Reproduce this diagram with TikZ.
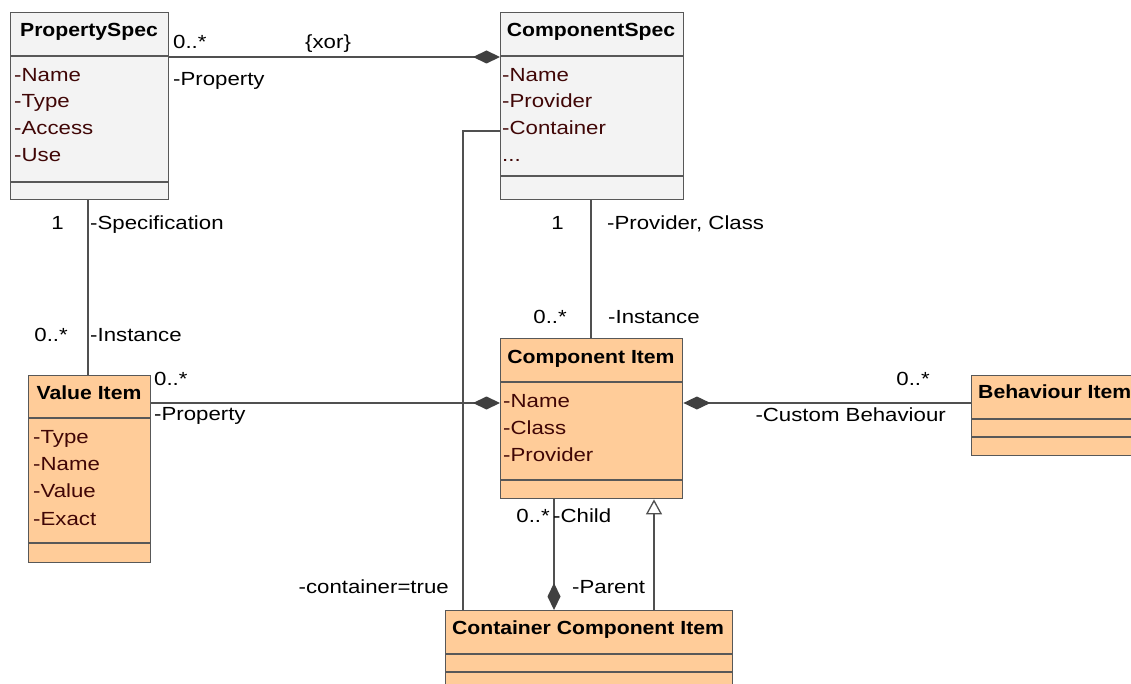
\documentclass[tikz,border=0pt]{standalone}
\usepackage{fontspec}
\setmainfont[FakeStretch=1.17]{Liberation Sans}
\newfontfamily\titlefam[FakeStretch=1.115]{Liberation Sans}
\usetikzlibrary{arrows.meta}

\definecolor{boxline}{RGB}{88,88,88}
\definecolor{linkcol}{RGB}{80,80,80}
\definecolor{diamcol}{RGB}{64,64,64}
\definecolor{specfill}{RGB}{243,243,243}
\definecolor{itemfill}{RGB}{255,204,153}
\definecolor{attrcol}{RGB}{64,6,6}

\newcommand{\umlfont}{\fontsize{19}{23}\selectfont}

\begin{document}
\begin{tikzpicture}[x=1pt,y=-1pt,
  cls/.style={draw=boxline, line width=1.4pt, rectangle, inner sep=0pt, anchor=north west},
  specbox/.style={cls, fill=specfill},
  itembox/.style={cls, fill=itemfill},
  sepline/.style={draw=boxline, line width=1.3pt},
  title/.style={font=\titlefam\umlfont\bfseries, anchor=base, inner sep=0pt},
  attr/.style={font=\umlfont, text=attrcol, anchor=base west, inner sep=0pt},
  lbl/.style={font=\umlfont, anchor=base west, inner sep=0pt},
  lblr/.style={lbl, anchor=base east},
  link/.style={draw=linkcol, line width=1.3pt},
  comp/.style={link, -{Diamond[length=27pt, width=13pt, color=diamcol, fill=diamcol]}},
  gen/.style={link, -{Triangle[open, length=15pt, width=16pt, fill=white]}}
]
\useasboundingbox (0,0) rectangle (1131,684);
\clip (0,0) rectangle (1131,684);

% ---------- class boxes ----------
\node[specbox, minimum width=158pt, minimum height=187pt] (pspec)  at (10,12)  {};
\node[specbox, minimum width=183pt, minimum height=187pt] (cspec)  at (500,12) {};
\node[itembox, minimum width=122pt, minimum height=187pt] (vitem)  at (28,375) {};
\node[itembox, minimum width=182pt, minimum height=160pt] (citem)  at (500,338) {};
\node[itembox, minimum width=200pt, minimum height=80pt]  (bitem)  at (971,375) {};
\node[itembox, minimum width=287pt, minimum height=100pt] (ccitem) at (445,610) {};

% compartment separators
\draw[sepline] (10,56) -- (168,56);   \draw[sepline] (10,182) -- (168,182);
\draw[sepline] (500,56) -- (683,56);  \draw[sepline] (500,176) -- (683,176);
\draw[sepline] (28,418) -- (150,418); \draw[sepline] (28,543) -- (150,543);
\draw[sepline] (500,382) -- (682,382);\draw[sepline] (500,480) -- (682,480);
\draw[sepline] (971,419) -- (1171,419);\draw[sepline] (971,437) -- (1171,437);
\draw[sepline] (445,654) -- (732,654);\draw[sepline] (445,672) -- (732,672);

% ---------- class names ----------
\node[title] (tpspec) at (89,37)  {PropertySpec};
\node[title] (tcspec) at (591,37) {ComponentSpec};
\node[title] (tvitem) at (89,399) {Value Item};
\node[title] (tcitem) at (591,363) {Component Item};
\node[title, anchor=base west] (tbitem) at (978,398) {Behaviour Item};
\node[title] (tccitem) at (588,634) {Container Component Item};

% ---------- attributes ----------
\node[attr] (pa1) at (14,82)  {-Name};
\node[attr] (pa2) at (14,108) {-Type};
\node[attr] (pa3) at (14,135) {-Access};
\node[attr] (pa4) at (14,162) {-Use};

\node[attr] (ca1) at (502,82)  {-Name};
\node[attr] (ca2) at (502,108) {-Provider};
\node[attr] (ca3) at (502,135) {-Container};
\node[attr] (ca4) at (502,162) {...};

\node[attr] (va1) at (33,443) {-Type};
\node[attr] (va2) at (33,470) {-Name};
\node[attr] (va3) at (33,497) {-Value};
\node[attr] (va4) at (33,525) {-Exact};

\node[attr] (ia1) at (503,407) {-Name};
\node[attr] (ia2) at (503,434) {-Class};
\node[attr] (ia3) at (503,461) {-Provider};

% ---------- connectors ----------
\coordinate (yTop)   at (0,57);
\coordinate (yMid)   at (0,403);
\coordinate (yCont)  at (0,131);
\coordinate (xCont)  at (463,0);
\coordinate (xChild) at (554,0);
\coordinate (xGen)   at (654,0);
\coordinate (xSpec)  at (88,0);
\coordinate (xInst)  at (591,0);

\draw[comp] (pspec.east |- yTop) -- (cspec.west |- yTop);
\draw[link] (pspec.south -| xSpec) -- (vitem.north -| xSpec);
\draw[link] (cspec.south -| xInst) -- (citem.north -| xInst);
\draw[comp] (vitem.east |- yMid) -- (citem.west |- yMid);
\draw[comp] (bitem.west |- yMid) -- (citem.east |- yMid);
\draw[comp] (citem.south -| xChild) -- (ccitem.north -| xChild);
\draw[gen]  (ccitem.north -| xGen) -- (citem.south -| xGen);
\draw[link] (cspec.west |- yCont) -| (ccitem.north -| xCont);

% ---------- association end labels ----------
\node[lbl]  (l1)  at (173,49)  {0..*};
\node[lbl]  (l2)  at (305,49)  {\{xor\}};
\node[lbl]  (l3)  at (173,86)  {-Property};
\node[lblr] (l4)  at (64,230)  {1};
\node[lbl]  (l5)  at (90,230)  {-Specification};
\node[lblr] (l6)  at (68,341)  {0..*};
\node[lbl]  (l7)  at (90,341)  {-Instance};
\node[lbl]  (l8)  at (154,385) {0..*};
\node[lbl]  (l9)  at (154,420) {-Property};
\node[lblr] (l10) at (564,230) {1};
\node[lbl]  (l11) at (607,230) {-Provider, Class};
\node[lblr] (l12) at (567,323) {0..*};
\node[lbl]  (l13) at (608,323) {-Instance};
\node[lblr] (l14) at (930,385) {0..*};
\node[lblr] (l15) at (946,421) {-Custom Behaviour};
\node[lblr] (l16) at (550,522) {0..*};
\node[lbl]  (l17) at (553,522) {-Child};
\node[lbl]  (l18) at (572,593) {-Parent};
\node[lblr] (l19) at (449,593) {-container=true};
\end{tikzpicture}
\end{document}
